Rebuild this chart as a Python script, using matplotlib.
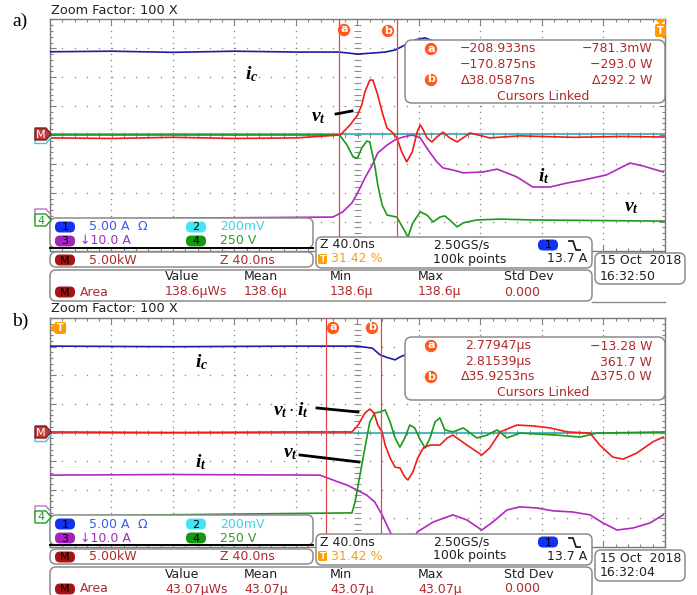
import matplotlib
matplotlib.use("Agg")
import matplotlib.pyplot as plt
from matplotlib.patches import FancyBboxPatch, Circle, Polygon
from matplotlib.collections import LineCollection
import numpy as np

plt.rcParams['font.family'] = ['DejaVu Sans']
plt.rcParams['mathtext.fontset'] = 'custom'
plt.rcParams['mathtext.it'] = 'Liberation Serif:italic:bold'
plt.rcParams['mathtext.rm'] = 'Liberation Serif:bold'
plt.rcParams['mathtext.bf'] = 'Liberation Serif:bold'

# ---------------- DATA (time in divisions, 40 ns/div; level in screen divisions) ----
# panel a) turn-off
a_ic_t = [-5.0, -4.0, -3.0, -2.0, -1.0, -0.30, 0.0, 0.28, 0.45, 0.61, 0.77, 0.93, 1.10, 1.34, 5.0]
a_ic_v = [2.88, 2.90, 2.86, 2.90, 2.87, 2.87, 2.80, 2.84, 2.87, 2.94, 3.11, 3.29, 3.36, 3.15, 3.15]

a_p_t = [-5.0, -4.0, -3.0, -2.0, -1.0, -0.28, -0.12, 0.0, 0.07, 0.12, 0.20, 0.25, 0.33, 0.40,
         0.48, 0.56, 0.64, 0.72, 0.80, 0.89, 0.97, 1.02, 1.07, 1.13, 1.21, 1.29, 1.39, 1.50,
         1.62, 1.83, 2.15, 2.64, 3.5, 4.3, 5.0]
a_p_v = [-0.10, -0.12, -0.08, -0.12, -0.10, 0.0, 0.35, 0.69, 1.04, 1.49, 1.90, 1.90, 1.38, 0.80,
         0.24, 0.10, -0.10, -0.59, -0.93, -0.59, 0.10, 0.35, 0.17, -0.10, -0.24, -0.07, 0.10, -0.10,
         -0.24, 0.07, -0.10, -0.03, -0.08, -0.05, -0.07]

a_vt_t = [-5.0, -0.29, -0.17, -0.07, 0.0, 0.07, 0.15, 0.20, 0.28, 0.33, 0.40, 0.48, 0.64, 0.74,
          0.82, 0.90, 1.02, 1.13, 1.23, 1.34, 1.42, 1.50, 1.62, 1.72, 1.94, 2.32, 2.85, 5.0]
a_vt_v = [0.0, 0.0, -0.35, -0.76, -0.80, -0.45, -0.21, -0.24, -1.04, -1.73, -2.42, -2.77, -2.84, -3.22,
          -3.53, -3.04, -2.66, -2.77, -3.01, -2.84, -2.80, -2.94, -3.18, -3.04, -2.94, -2.91, -2.94, -2.98]

a_it_t = [-5.0, -0.40, -0.24, -0.09, 0.01, 0.12, 0.24, 0.33, 0.48, 0.61, 0.74, 0.89, 1.02, 1.15,
          1.29, 1.39, 1.55, 1.72, 2.04, 2.27, 2.59, 2.85, 3.13, 3.41, 3.67, 4.05, 4.43, 4.64, 4.97]
a_it_v = [-2.91, -2.84, -2.66, -2.35, -1.97, -1.49, -1.04, -0.62, -0.35, -0.17, -0.07, 0.0, -0.10, -0.52,
          -0.93, -1.14, -1.21, -1.31, -1.28, -1.18, -1.45, -1.80, -1.80, -1.66, -1.56, -1.38, -0.97, -1.07, -1.28]

a_ch2_t = [-5.0, 5.0]
a_ch2_v = [0.03, 0.03]
a_cursors = [-0.30, 0.64]

# panel b) turn-on
b_ic_t = [-5.0, -3.0, -1.0, 0.0, 0.24, 0.37, 0.50, 0.61, 0.69, 0.77, 1.02, 5.0]
b_ic_v = [3.02, 3.00, 3.02, 3.02, 2.95, 2.71, 2.61, 2.54, 2.64, 2.71, 2.81, 2.81]

b_p_t = [-5.0, -3.0, -1.0, -0.09, 0.01, 0.12, 0.20, 0.27, 0.33, 0.40, 0.45, 0.53, 0.61, 0.69,
         0.77, 0.82, 0.90, 0.98, 1.07, 1.18, 1.34, 1.46, 1.55, 1.78, 2.02, 2.15, 2.32, 2.59,
         2.85, 3.13, 3.41, 3.78, 3.94, 4.15, 4.32, 4.54, 4.80, 4.97]
b_p_v = [0.02, 0.0, 0.02, 0.02, 0.26, 0.68, 0.82, 0.68, 0.26, 0.02, -0.44, -0.89, -1.21, -1.24,
         -1.56, -1.66, -1.38, -0.89, -0.54, -0.44, -0.44, -0.19, -0.09, -0.44, -0.79, -0.54, 0.02, 0.26,
         0.23, 0.16, 0.02, -0.02, -0.44, -0.86, -0.93, -0.72, -0.33, -0.16]

b_vt_t = [-5.0, -0.09, -0.04, 0.04, 0.12, 0.20, 0.28, 0.37, 0.45, 0.53, 0.61, 0.69, 0.77, 0.85,
          0.93, 1.02, 1.10, 1.18, 1.26, 1.34, 1.42, 1.55, 1.72, 1.94, 2.11, 2.27, 2.43, 2.64,
          3.24, 3.62, 3.89, 5.0]
b_vt_v = [-2.92, -2.81, -2.43, -1.49, -0.54, 0.37, 0.68, 0.72, 0.79, 0.37, -0.19, -0.51, -0.19, 0.26,
          0.16, -0.26, -0.54, -0.19, 0.37, 0.51, 0.09, 0.02, 0.16, -0.19, -0.09, 0.09, -0.19, -0.02,
          -0.09, -0.16, -0.02, 0.02]

b_it_t = [-5.0, -3.0, -0.61, -0.40, -0.17, -0.01, 0.15, 0.28, 0.40, 0.50, 0.61, 0.77, 0.97, 1.23,
          1.46, 1.55, 1.78, 2.02, 2.20, 2.43, 2.64, 2.92, 3.18, 3.50, 3.78, 3.99, 4.22, 4.48, 4.76, 4.97]
b_it_v = [-1.49, -1.47, -1.49, -1.66, -1.84, -2.01, -2.19, -2.43, -2.88, -3.34, -3.83, -4.32, -3.48, -3.13,
          -2.95, -2.88, -3.06, -3.41, -3.13, -2.71, -2.60, -2.64, -2.74, -2.78, -2.88, -3.16, -3.41, -3.34, -3.16, -2.88]

b_ch2_t = [-5.0, 5.0]
b_ch2_v = [-0.02, -0.02]
b_cursors = [-0.51, 0.38]

# readout texts
a_read = [("\u2212208.933ns", "\u2212781.3mW"), ("\u2212170.875ns", "\u2212293.0 W"),
          ("\u039438.0587ns", "\u0394292.2 W")]
b_read = [("2.77947\u00b5s", "\u221213.28 W"), ("2.81539\u00b5s", "361.7 W"),
          ("\u039435.9253ns", "\u0394375.0 W")]
a_meas = ["138.6\u00b5Ws", "138.6\u00b5", "138.6\u00b5", "138.6\u00b5", "0.000"]
b_meas = ["43.07\u00b5Ws", "43.07\u00b5", "43.07\u00b5", "43.07\u00b5", "0.000"]
a_clock = "16:32:50"
b_clock = "16:32:04"

# ---------------- FIGURE ----------------
W, H = 697, 595
fig = plt.figure(figsize=(W / 100, H / 100), dpi=100)
fig.patch.set_facecolor('white')


def px_rect(x0, y0, x1, y1):
    return [x0 / W, 1 - y1 / H, (x1 - x0) / W, (y1 - y0) / H]


axA = fig.add_axes(px_rect(50, 19.4, 665, 250.6))
axB = fig.add_axes(px_rect(50, 318.1, 665, 546.9))
ov = fig.add_axes([0, 0, 1, 1])
ov.set_xlim(0, W)
ov.set_ylim(H, 0)
ov.axis('off')
ov.set_zorder(10)

C_BLUE = '#1c1ca8'
C_RED = '#f41a1a'
C_GREEN = '#1a9a1a'
C_PURPLE = '#b028c0'
C_CYAN = '#30a8b0'
GR = '#8c8c8c'


def graticule(ax):
    ax.set_xlim(-5, 5)
    ax.set_ylim(-4, 4)
    ax.set_xticks(np.arange(-5, 5.01, 1))
    ax.set_yticks(np.arange(-4, 4.01, 1))
    ax.set_xticks(np.arange(-5, 5.01, 0.2), minor=True)
    ax.set_yticks(np.arange(-4, 4.01, 0.2), minor=True)
    ax.tick_params(which='both', direction='in', top=True, right=True,
                   labelbottom=False, labelleft=False, color='#808080', width=0.8)
    ax.tick_params(which='major', length=4)
    ax.tick_params(which='minor', length=2.5)
    for s in ax.spines.values():
        s.set_color('#7a7a7a')
        s.set_linewidth(1.0)
    xs = np.arange(-5, 5.001, 0.2)
    ys = np.arange(-4, 4.001, 0.2)
    for yv in range(-3, 4):
        ax.scatter(xs, np.full(xs.shape, yv), s=1.2, color=GR, lw=0, zorder=1)
    for xv in range(-4, 5):
        ax.scatter(np.full(ys.shape, xv), ys, s=1.2, color=GR, lw=0, zorder=1)
    segs = [[(-0.05, y), (0.05, y)] for y in ys] + [[(x, -0.1), (x, 0.1)] for x in xs]
    ax.add_collection(LineCollection(segs, colors=GR, lw=0.7, zorder=1))


def traces(ax, ic, p, vt, it, ch2, cur):
    graticule(ax)
    kw = dict(lw=1.2, solid_joinstyle='round')
    ax.plot(ch2[0], ch2[1], color=C_CYAN, zorder=2, **kw)
    ax.plot(it[0], it[1], color=C_PURPLE, zorder=3, **kw)
    ax.plot(ic[0], ic[1], color=C_BLUE, zorder=3, **kw)
    ax.plot(vt[0], vt[1], color=C_GREEN, zorder=4, **kw)
    ax.plot(p[0], p[1], color=C_RED, zorder=5, **kw)
    for c in cur:
        ax.axvline(c, color='#e04848', lw=0.9, zorder=6)


traces(axA, (a_ic_t, a_ic_v), (a_p_t, a_p_v), (a_vt_t, a_vt_v), (a_it_t, a_it_v), (a_ch2_t, a_ch2_v), a_cursors)
traces(axB, (b_ic_t, b_ic_v), (b_p_t, b_p_v), (b_vt_t, b_vt_v), (b_it_t, b_it_v), (b_ch2_t, b_ch2_v), b_cursors)

# ---------------- OVERLAY ----------------
RD = '#b02a2a'


def rbox(x0, y0, x1, y1, r=6, ec='#8c8c8c', lw=1.1, fc='white', z=2):
    ov.add_patch(FancyBboxPatch((x0, y0), x1 - x0, y1 - y0,
                                boxstyle=f"round,pad=0,rounding_size={r}",
                                fc=fc, ec=ec, lw=lw, zorder=z))


def pill(xc, yc, fc, lab, w=20, h=11):
    ov.add_patch(FancyBboxPatch((xc - w / 2, yc - h / 2), w, h,
                                boxstyle=f"round,pad=0,rounding_size={h / 2 - 0.5}",
                                fc=fc, ec='none', zorder=3))
    ov.text(xc, yc + 0.5, lab, color='black', fontsize=8, ha='center', va='center', zorder=4)


def tx(x, y, s, c, fs=9, ha='left', **kw):
    ov.text(x, y, s, color=c, fontsize=fs, ha=ha, va='center', zorder=4, **kw)


def circ(xc, yc, lab, r=6.2):
    ov.add_patch(Circle((xc, yc), r, fc='#ff5a1e', ec='none', zorder=5))
    ov.text(xc, yc - 0.5, lab, color='white', fontsize=8, fontweight='bold',
            ha='center', va='center', zorder=6)


def lmark(yc, fc, ec, tc, lab, z):
    pts = [(35, yc - 6), (46, yc - 6), (51, yc), (46, yc + 6), (35, yc + 6)]
    ov.add_patch(Polygon(pts, closed=True, fc=fc, ec=ec, lw=1.0, zorder=z))
    if lab:
        ov.text(41, yc + 0.5, lab, color=tc, fontsize=8, ha='center', va='center', zorder=z + 0.5)


def info(dy, meas, clock):
    rbox(50, 218 + dy, 313, 248 + dy)
    ov.plot([50, 313], [248 + dy, 248 + dy], color='black', lw=1.4, zorder=3)
    pill(65, 227 + dy, '#1430f0', '1')
    tx(89, 227 + dy, '5.00 A', '#3a5af0')
    tx(137, 227 + dy, '\u03a9', '#3a5af0')
    pill(196, 227 + dy, '#44e4f4', '2')
    tx(220, 227 + dy, '200mV', '#38d4e8')
    pill(65, 241 + dy, '#a224bc', '3')
    tx(80, 241 + dy, '\u219310.0 A', '#a030c0')
    pill(196, 241 + dy, '#129a12', '4')
    tx(220, 241 + dy, '250 V', '#2aa02a')

    rbox(50, 252 + dy, 313, 267 + dy)
    pill(65, 260 + dy, '#a81414', 'M')
    tx(89, 260 + dy, '5.00kW', RD)
    tx(220, 260 + dy, 'Z 40.0ns', RD)

    rbox(50, 270 + dy, 592, 301 + dy)
    for x, s in zip([165, 244, 330, 418, 504], ['Value', 'Mean', 'Min', 'Max', 'Std Dev']):
        tx(x, 277 + dy, s, '#202020')
    pill(65, 292 + dy, '#a81414', 'M')
    tx(80, 292 + dy, 'Area', RD)
    for x, s in zip([165, 244, 330, 418, 504], meas):
        tx(x, 292 + dy, s, RD)

    rbox(316, 237 + dy, 592, 268 + dy)
    tx(320, 245 + dy, 'Z 40.0ns', '#202020')
    tx(433, 245 + dy, '2.50GS/s', '#202020')
    pill(548, 245 + dy, '#1430f0', '1')
    ov.plot([569, 573, 576, 580], [241 + dy, 241 + dy, 250 + dy, 250 + dy], color='#202020', lw=1.3, zorder=4)
    ov.add_patch(FancyBboxPatch((318, 254 + dy), 9, 10, boxstyle="round,pad=0,rounding_size=1.5",
                                fc='#ffa000', ec='none', zorder=3))
    ov.text(322.5, 259.5 + dy, 'T', color='white', fontsize=6.5, fontweight='bold',
            ha='center', va='center', zorder=4)
    tx(331, 259 + dy, '31.42 %', '#f0a020')
    tx(433, 259 + dy, '100k points', '#202020')
    tx(587, 259 + dy, '13.7 A', '#202020', ha='right')

    rbox(595, 253 + dy, 685, 284 + dy)
    tx(600, 261 + dy, '15 Oct  2018', '#202020')
    tx(600, 276 + dy, clock, '#202020')


def readout(y0, rows):
    rbox(405, y0, 665, y0 + 63, r=7)
    ys = [y0 + 9, y0 + 25, y0 + 40]
    for (l, r), y in zip(rows, ys):
        tx(498, y, l, RD, ha='center')
        tx(652, y, r, RD, ha='right')
    circ(431, ys[0], 'a')
    circ(431, ys[2], 'b')
    tx(543, y0 + 56, 'Cursors Linked', RD, ha='center')


# panel labels and headers
ov.text(12, 21, 'a)', fontsize=14, family='Liberation Serif', ha='left', va='center')
ov.text(12, 321, 'b)', fontsize=14, family='Liberation Serif', ha='left', va='center')
tx(51, 11, 'Zoom Factor: 100 X', '#202020', fs=9.3)
tx(51, 309, 'Zoom Factor: 100 X', '#202020', fs=9.3)

# cursor flags
circ(344, 30, 'a')
circ(388, 31, 'b')
circ(333, 328, 'a')
circ(372, 328, 'b')

# trigger markers
ORG = '#ff9a00'
ov.add_patch(Polygon([(655, 19), (666, 19), (660.5, 25)], closed=True, fc=ORG, ec='none', zorder=5))
ov.add_patch(FancyBboxPatch((655, 24), 11, 13, boxstyle="round,pad=0,rounding_size=2", fc=ORG, ec='none', zorder=5))
ov.text(660.5, 30.5, 'T', color='white', fontsize=7, fontweight='bold', ha='center', va='center', zorder=6)
ov.add_patch(Polygon([(50, 328), (56, 322), (56, 334)], closed=True, fc=ORG, ec='none', zorder=5))
ov.add_patch(FancyBboxPatch((55, 322), 11, 12, boxstyle="round,pad=0,rounding_size=2", fc=ORG, ec='none', zorder=5))
ov.text(60.5, 328, 'T', color='white', fontsize=7, fontweight='bold', ha='center', va='center', zorder=6)

# channel ground markers
lmark(137.5, 'white', '#40c8d8', None, '', 3)
lmark(134, '#c03838', '#802020', 'white', 'M', 4)
lmark(215, 'white', '#c070d0', None, '', 3)
lmark(220, 'white', '#20a020', '#20a020', '4', 4)
lmark(435.5, 'white', '#40c8d8', None, '', 3)
lmark(432, '#c03838', '#802020', 'white', 'M', 4)
lmark(512, 'white', '#c070d0', None, '', 3)
lmark(517, 'white', '#20a020', '#20a020', '4', 4)

info(0, a_meas, a_clock)
info(297, b_meas, b_clock)
readout(40, a_read)
readout(337, b_read)
ov.plot([592, 665], [302, 302], color='#8c8c8c', lw=1.0, zorder=2)

# annotations
ov.text(245, 74, r'$i_c$', fontsize=14, ha='left', va='center', zorder=7)
ov.text(311, 116, r'$v_t$', fontsize=14, ha='left', va='center', zorder=7)
ov.plot([336, 352], [114, 111], color='black', lw=2, zorder=7)
ov.text(538, 176, r'$i_t$', fontsize=14, ha='left', va='center', zorder=7)
ov.text(624, 207, r'$v_t$', fontsize=14, ha='left', va='center', zorder=7)

ov.text(195, 362, r'$i_c$', fontsize=14, ha='left', va='center', zorder=7)
ov.text(273, 410, r'$v_t\cdot i_t$', fontsize=14, ha='left', va='center', zorder=7)
ov.plot([317, 358], [408, 412], color='black', lw=2, zorder=7)
ov.text(283, 452, r'$v_t$', fontsize=14, ha='left', va='center', zorder=7)
ov.plot([300, 359], [455, 462], color='black', lw=2, zorder=7)
ov.text(195, 462, r'$i_t$', fontsize=14, ha='left', va='center', zorder=7)

fig.savefig('out.png', dpi=100, facecolor='white')
